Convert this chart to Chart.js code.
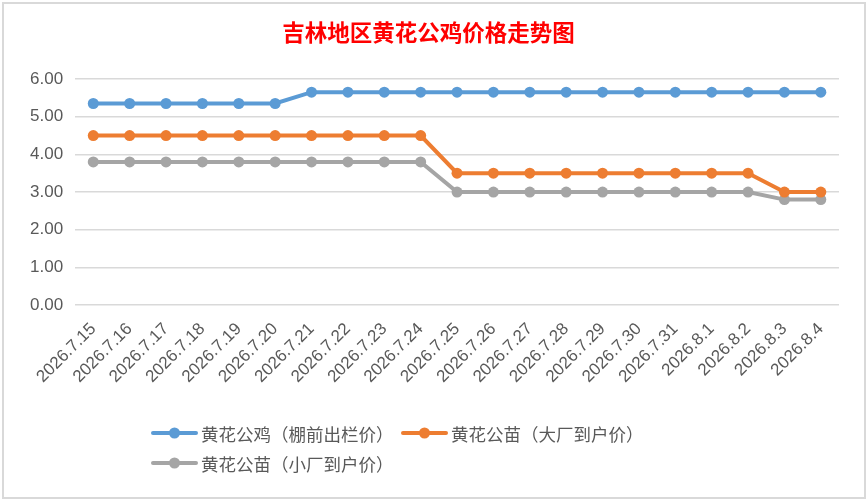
<!DOCTYPE html>
<html>
<head>
<meta charset="utf-8">
<script src="https://cdn.jsdelivr.net/npm/chart.js@4.4.1/dist/chart.umd.min.js"></script>
<style>
  html, body { margin: 0; padding: 0; background: #fff; }
  #wrap { width: 868px; height: 501px; position: relative; }
</style>
</head>
<body>
<div id="wrap"><canvas id="chart"></canvas></div>
<script>
(function () {

  var dates = ['2026.7.15', '2026.7.16', '2026.7.17', '2026.7.18', '2026.7.19', '2026.7.20', '2026.7.21',
    '2026.7.22', '2026.7.23', '2026.7.24', '2026.7.25', '2026.7.26', '2026.7.27', '2026.7.28',
    '2026.7.29', '2026.7.30', '2026.7.31', '2026.8.1', '2026.8.2', '2026.8.3', '2026.8.4'];

  var roosterPrice = [5.35, 5.35, 5.35, 5.35, 5.35, 5.35, 5.65, 5.65, 5.65, 5.65, 5.65,
    5.65, 5.65, 5.65, 5.65, 5.65, 5.65, 5.65, 5.65, 5.65, 5.65];
  var chickBigPrice = [4.5, 4.5, 4.5, 4.5, 4.5, 4.5, 4.5, 4.5, 4.5, 4.5, 3.5,
    3.5, 3.5, 3.5, 3.5, 3.5, 3.5, 3.5, 3.5, 3.0, 3.0];
  var chickSmallPrice = [3.8, 3.8, 3.8, 3.8, 3.8, 3.8, 3.8, 3.8, 3.8, 3.8, 3.0,
    3.0, 3.0, 3.0, 3.0, 3.0, 3.0, 3.0, 3.0, 2.8, 2.8];

  var seriesNames = ['黄花公鸡（棚前出栏价）', '黄花公苗（大厂到户价）', '黄花公苗（小厂到户价）'];
  var seriesColors = ['#5B9BD5', '#ED7D31', '#A5A5A5'];
  var yTicks = [0, 1, 2, 3, 4, 5, 6];

  var textColor = '#595959';
  var gridColor = '#D9D9D9';

  var makeSet = function (i, values) {
    return {
      label: seriesNames[i],
      data: values,
      borderColor: seriesColors[i],
      backgroundColor: seriesColors[i],
      pointBackgroundColor: seriesColors[i],
      pointBorderColor: seriesColors[i],
      borderWidth: 4,
      pointRadius: 5.5,
      pointBorderWidth: 0,
      fill: false,
      tension: 0
    };
  };

  // frame round the whole chart
  var framePlugin = {
    id: 'frame',
    beforeDraw: function (chart) {
      var c = chart.ctx;
      c.save();
      c.fillStyle = '#fff';
      c.fillRect(0, 0, chart.width, chart.height);
      c.strokeStyle = gridColor;
      c.lineWidth = 2;
      c.strokeRect(3, 3, chart.width - 6, chart.height - 6);
      c.restore();
    }
  };

  // legend laid out like the spreadsheet one
  var legendSpots = [[153, 433], [403, 433], [153, 463]];
  var legendPlugin = {
    id: 'sheetLegend',
    afterDraw: function (chart) {
      var c = chart.ctx;
      c.save();
      chart.data.datasets.forEach(function (ds, i) {
        var x = legendSpots[i][0], y = legendSpots[i][1];
        c.strokeStyle = ds.borderColor;
        c.lineWidth = 4;
        c.lineCap = 'round';
        c.beginPath();
        c.moveTo(x, y);
        c.lineTo(x + 43, y);
        c.stroke();
        c.fillStyle = ds.borderColor;
        c.beginPath();
        c.arc(x + 21.5, y, 5.5, 0, Math.PI * 2);
        c.fill();
        c.fillStyle = textColor;
        c.font = '17.5px "Noto Sans CJK SC", sans-serif';
        c.textBaseline = 'middle';
        c.textAlign = 'left';
        c.fillText(ds.label, x + 48, y + 1);
      });
      c.restore();
    }
  };

  var ctx = document.getElementById('chart').getContext('2d');

  new Chart(ctx, {
    type: 'line',
    data: {
      labels: dates,
      datasets: [
        makeSet(0, roosterPrice),
        makeSet(1, chickBigPrice),
        makeSet(2, chickSmallPrice)
      ]
    },
    options: {
      responsive: true,
      maintainAspectRatio: false,
      animation: false,
      layout: {
        padding: { left: 18, right: 29, top: 0, bottom: 108 }
      },
      plugins: {
        legend: { display: false },
        tooltip: { enabled: false },
        title: {
          display: true,
          text: '吉林地区黄花公鸡价格走势图',
          color: '#FF0000',
          font: { family: '"Noto Sans CJK SC", sans-serif', size: 22.5, weight: 'bold' },
          padding: { top: 19, bottom: 33 }
        }
      },
      scales: {
        x: {
          offset: true,
          grid: { display: false },
          border: { display: false },
          ticks: {
            color: textColor,
            font: { family: '"Liberation Sans", sans-serif', size: 17 },
            minRotation: 45,
            maxRotation: 45,
            autoSkip: false,
            padding: 6
          }
        },
        y: {
          min: yTicks[0],
          max: yTicks[yTicks.length - 1],
          afterBuildTicks: function (axis) {
            axis.ticks = yTicks.map(function (v) { return { value: v }; });
          },
          grid: { color: gridColor, lineWidth: 1.5, drawTicks: false },
          border: { display: false },
          ticks: {
            color: textColor,
            font: { family: '"Liberation Sans", sans-serif', size: 17 },
            padding: 12,
            callback: function (v) { return Number(v).toFixed(2); }
          }
        }
      }
    },
    plugins: [framePlugin, legendPlugin]
  });

})();
</script>
</body>
</html>
